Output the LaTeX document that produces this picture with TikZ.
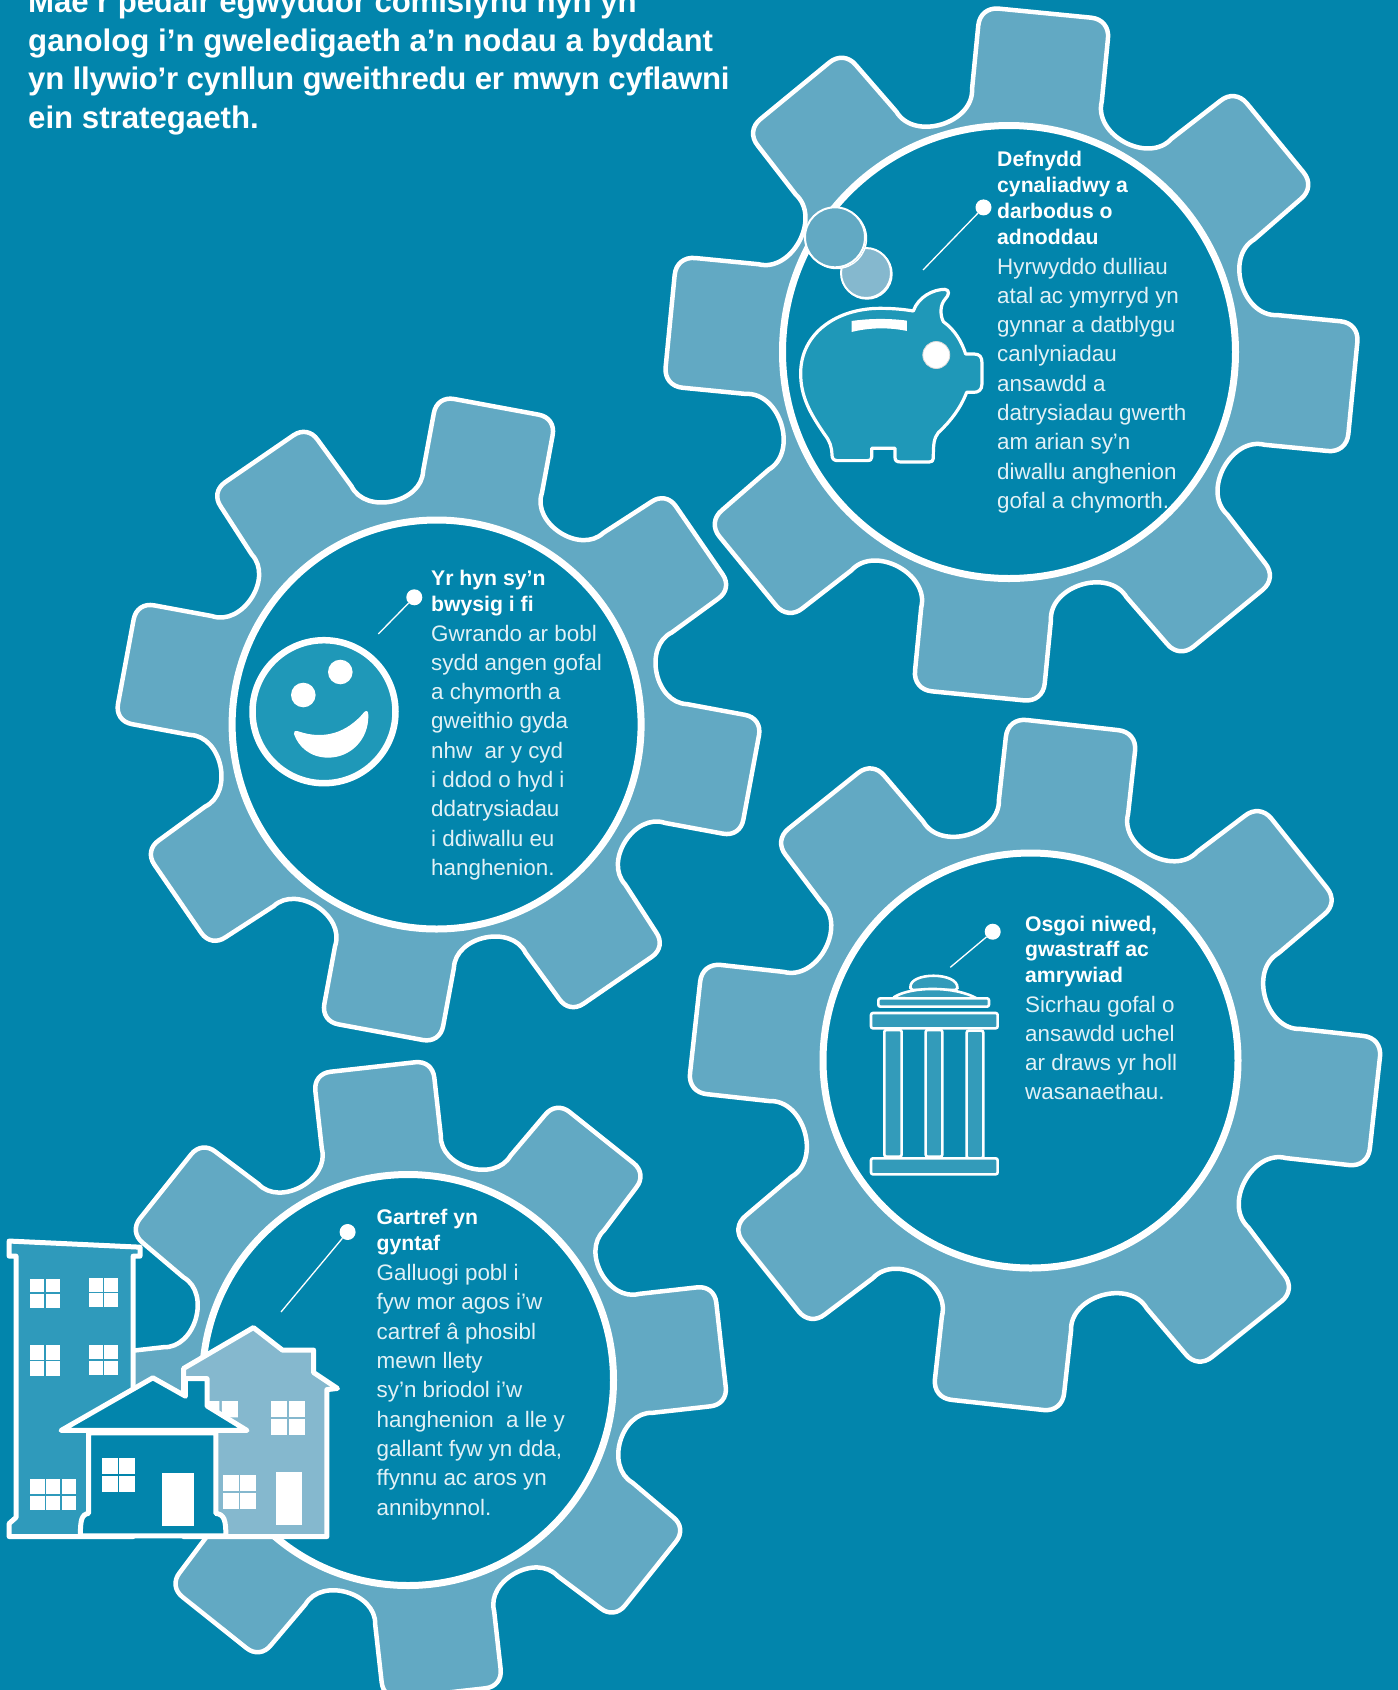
\documentclass[tikz,border=0pt]{standalone}
\usepackage{fontspec}
\setmainfont{Liberation Sans}
\definecolor{bgblue}{HTML}{0285AC}
\definecolor{gearblue}{HTML}{62A9C3}
\definecolor{iconblue}{HTML}{1F98B8}
\definecolor{towerblue}{HTML}{2F9ABB}
\definecolor{paleblue}{HTML}{85B8CE}
\definecolor{binblue}{HTML}{339BBA}
\definecolor{bodytext}{HTML}{E2F1F6}
\tikzset{
  gearbody/.style={fill=gearblue,draw=white,line width=4.5pt,line join=round},
  hubring/.style={fill=bgblue,draw=white,line width=7pt},
  headtext/.style={anchor=base west,inner sep=0pt,align=left,text=white,font=\fontsize{21.2}{25.9}\selectfont\bfseries},
  bodycopy/.style={anchor=base west,inner sep=0pt,align=left,text=bodytext,font=\fontsize{22.4}{29.3}\selectfont},
  titletext/.style={anchor=base west,inner sep=0pt,align=left,text=white,font=\fontsize{31.2}{38.6}\selectfont\bfseries},
  pindot/.style={circle,fill=white,inner sep=0pt,minimum size=16pt},
  pinline/.style={draw=white,line width=1.3pt},
  iconline/.style={draw=white,line width=3.2pt,line join=round},
  binpart/.style={fill=binblue,draw=white,line width=2.6pt,rounded corners=2pt},
  bldg/.style={draw=white,line width=5pt,line join=round},
}
% gear centre x, y, tip radius, rotation, hub x, hub y, hub radius, diagonal tooth length, diagonal tooth half width
\newcommand{\gearshape}[9]{%
  \begin{scope}[shift={(#1,#2)},x=#3pt,y=#3pt,rotate=#4]
    \path[gearbody] (.76,-.19)
      foreach \a/\tl/\tw in {0/1/.19,45/#8/#9,90/1/.19,135/#8/#9,180/1/.19,225/#8/#9,270/1/.19,315/#8/#9}{
        -- ([rotate=\a]{\tl-.055},{-\tw}) .. controls ([rotate=\a]{\tl-.022},{-\tw}) and ([rotate=\a]{\tl},{-\tw+.022}) .. ([rotate=\a]{\tl},{-\tw+.055})
        -- ([rotate=\a]{\tl},{\tw-.055}) .. controls ([rotate=\a]{\tl},{\tw-.022}) and ([rotate=\a]{\tl-.022},{\tw}) .. ([rotate=\a]{\tl-.055},{\tw})
        -- ([rotate=\a].76,.19) .. controls ([rotate=\a].66,.175) and ([rotate=\a+45].66,-.175) .. ([rotate=\a+45].76,-.19)
      } -- cycle;
  \end{scope}
  \path[hubring] (#5,#6) circle[radius=#7pt];
}
\newcommand{\windowpanes}[5]{%
  \fill[white] (#1,#2) rectangle (#3,#4);
  \draw[#5,line width=1.8pt] ({(#1+#3)/2},#2) -- ({(#1+#3)/2},#4) ({#1},{(#2+#4)/2}) -- ({#3},{(#2+#4)/2});
}
\begin{document}
\begin{tikzpicture}[x=1pt,y=-1pt]
\useasboundingbox (0,0) rectangle (1398,1690);
\fill[bgblue] (0,0) rectangle (1398,1690);

% gears
\gearshape{1011.5}{354.5}{343}{-5.6}{1009}{352}{226.5}{.995}{.185}
\gearshape{438.5}{719.5}{318}{-10.5}{436.6}{724.5}{204.5}{.995}{.185}
\gearshape{1035}{1065}{342}{-6.3}{1030.5}{1060.5}{207.5}{.99}{.185}
\gearshape{408}{1380}{315}{6.4}{408}{1380}{205.5}{.985}{.185}

% title
\node[titletext] (title) at (28,128.5) {{\addfontfeature{LetterSpace=-0.36}Mae’r pedair egwyddor comisiynu hyn yn}\\ganolog i’n gweledigaeth a’n nodau a byddant\\{\addfontfeature{LetterSpace=-0.9}yn llywio’r cynllun gweithredu er mwyn cyflawni}\\ein strategaeth.};

% coins
\draw[white,line width=1.4pt,fill=paleblue] (867,274) circle[radius=25];
\draw[white,line width=2pt,fill=paleblue] (866,273) circle[radius=25];
\draw[white,line width=1.4pt,fill=gearblue] (836.5,238.5) circle[radius=30];
\draw[white,line width=2pt,fill=gearblue] (835,237.3) circle[radius=30];

% piggy bank
\begin{scope}[shift={(770,180)},x=.3333pt,y=-.3333pt]
  \path[iconline,fill=iconblue] (430,393) .. controls (445,350) and (490,328) .. (525,328)
    .. controls (540,330) and (538,345) .. (525,358) .. controls (510,375) and (510,405) .. (520,425)
    .. controls (555,450) and (575,485) .. (587,522) -- (612,522) .. controls (630,522) and (636,532) .. (636,548)
    -- (636,612) .. controls (636,630) and (625,637) .. (612,637) -- (590,637)
    .. controls (570,690) and (535,730) .. (505,758) .. controls (492,775) and (490,790) .. (490,835)
    .. controls (490,843) and (485,846) .. (478,846) -- (392,846) .. controls (380,846) and (375,842) .. (375,832) -- (375,805)
    -- (305,805) -- (305,832) .. controls (305,840) and (300,842) .. (292,842) -- (200,842) .. controls (190,840) and (186,835) .. (186,825)
    .. controls (185,800) and (180,785) .. (165,765) .. controls (120,700) and (92,650) .. (92,580)
    .. controls (92,460) and (200,385) .. (330,385) .. controls (370,385) and (400,388) .. (430,393) -- cycle;
  \fill[white] (245,423) .. controls (300,415) and (360,415) .. (411,422) -- (411,453) .. controls (360,442) and (300,442) .. (245,456) -- cycle;
\end{scope}
\draw[white!85!black,line width=.8pt,fill=white] (936.3,355) circle[radius=13.5];

% smiley
\draw[white,line width=6.5pt,fill=iconblue] (324,711.7) circle[radius=71.5];
\fill[white] (303.3,695) circle[radius=12.3];
\fill[white] (340.3,672) circle[radius=12.3];
\begin{scope}[shift={(230,580)},x=.3333pt,y=-.3333pt]
  \fill[white] (192,462) .. controls (188,455) and (196,451) .. (205,454)
    .. controls (280,480) and (350,460) .. (403,396) .. controls (410,390) and (415,393) .. (415,405)
    .. controls (417,480) and (360,533) .. (295,533) .. controls (240,533) and (205,500) .. (192,462) -- cycle;
\end{scope}

% bin
\begin{scope}[shift={(840,910)},x=.3333pt,y=-.3333pt]
  \fill[towerblue!20!bgblue] (185,360) rectangle (380,742);
  \path[binpart] (212,240) .. controls (205,185) and (355,185) .. (352,240) -- cycle;
  \path[binpart] (158,264) .. controls (215,228) and (350,228) .. (418,270) -- cycle;
  \path[binpart] (115,265) rectangle (447,290);
  \path[binpart] (93,309) rectangle (473,355);
  \path[binpart] (133,360) rectangle (185,740);
  \path[binpart] (257,360) rectangle (307,740);
  \path[binpart] (380,362) rectangle (430,745);
  \path[binpart] (93,745) rectangle (473,793);
\end{scope}

% houses
\begin{scope}[shift={(0,1050)},x=.4591pt,y=-.4082pt]
  % tower
  \path[bldg,fill=towerblue] (20,468) -- (305,483) -- (305,505) -- (290,505) -- (290,1192) -- (20,1192) -- (20,1160) -- (35,1145) -- (35,505) -- (20,505) -- cycle;
  \windowpanes{65}{560}{130}{632}{towerblue}
  \windowpanes{193}{558}{258}{630}{towerblue}
  \windowpanes{65}{723}{130}{798}{towerblue}
  \windowpanes{193}{723}{258}{795}{towerblue}
  \fill[white] (65,1052) rectangle (166,1127);
  \draw[towerblue,line width=1.8pt] (99,1052) -- (99,1127) (133,1052) -- (133,1127) (65,1090) -- (166,1090);
  % back house
  \path[bldg,fill=paleblue] (400,780) -- (552,680) -- (615,735) -- (683,735) -- (683,790) -- (735,829) -- (712,832) -- (712,1192) -- (400,1192) -- cycle;
  \windowpanes{590}{860}{664}{943}{paleblue}
  \fill[white] (450,860) rectangle (478,900) (483,860) rectangle (518,900);
  \windowpanes{485}{1042}{558}{1125}{paleblue}
  \fill[white] (602,1033) rectangle (658,1163);
  % front house
  \path[bldg,fill=bgblue] (193,938) -- (193,1135) .. controls (178,1138) and (175,1150) .. (175,1190) -- (492,1190) .. controls (492,1150) and (488,1138) .. (470,1135) -- (470,938) -- cycle;
  \path[bldg,fill=bgblue] (133,932) -- (333,803) -- (404,848) -- (404,805) -- (451,805) -- (451,872) -- (538,932) -- cycle;
  \windowpanes{222}{1000}{294}{1082}{bgblue}
  \fill[white] (352,1037) rectangle (423,1167);
\end{scope}

% text gear 1
\node[headtext] (h1) at (997,244.6) {Defnydd\\cynaliadwy a\\darbodus o\\adnoddau};
\node[bodycopy] (b1) at (997,508.4) {Hyrwyddo dulliau\\atal ac ymyrryd yn\\gynnar a datblygu\\canlyniadau\\ansawdd a\\datrysiadau gwerth\\am arian sy’n\\diwallu anghenion\\gofal a chymorth.};
\node[pindot] (d1) at (983.5,207.4) {};
\coordinate (e1) at (923,270);
\draw[pinline] (d1) -- (e1);

% text gear 2
\node[headtext] (h2) at (431,611) {Yr hyn sy’n\\bwysig i fi};
\node[bodycopy] (b2) at (431,875.4) {Gwrando ar bobl\\sydd angen gofal\\a chymorth a\\gweithio gyda\\nhw\ \ ar y cyd\\i ddod o hyd i\\ddatrysiadau\\i ddiwallu eu\\hanghenion.};
\node[pindot] (d2) at (414.3,597.3) {};
\coordinate (e2) at (378.3,634);
\draw[pinline] (d2) -- (e2);

% text gear 3
\node[headtext] (h3) at (1025,982.8) {Osgoi niwed,\\gwastraff ac\\amrywiad};
\node[bodycopy] (b3) at (1025,1099.9) {Sicrhau gofal o\\ansawdd uchel\\ar draws yr holl\\wasanaethau.};
\node[pindot] (d3) at (992.7,931.7) {};
\coordinate (e3) at (950.3,967.3);
\draw[pinline] (d3) -- (e3);

% text gear 4
\node[headtext] (h4) at (376.5,1250) {Gartref yn\\gyntaf};
\node[bodycopy] (b4) at (376.5,1515) {Galluogi pobl i\\fyw mor agos i’w\\cartref â phosibl\\mewn llety\\sy’n briodol i’w\\hanghenion\ \ a lle y\\gallant fyw yn dda,\\ffynnu ac aros yn\\annibynnol.};
\node[pindot] (d4) at (347.6,1232) {};
\coordinate (e4) at (281,1312);
\draw[pinline] (d4) -- (e4);
\end{tikzpicture}
\end{document}
